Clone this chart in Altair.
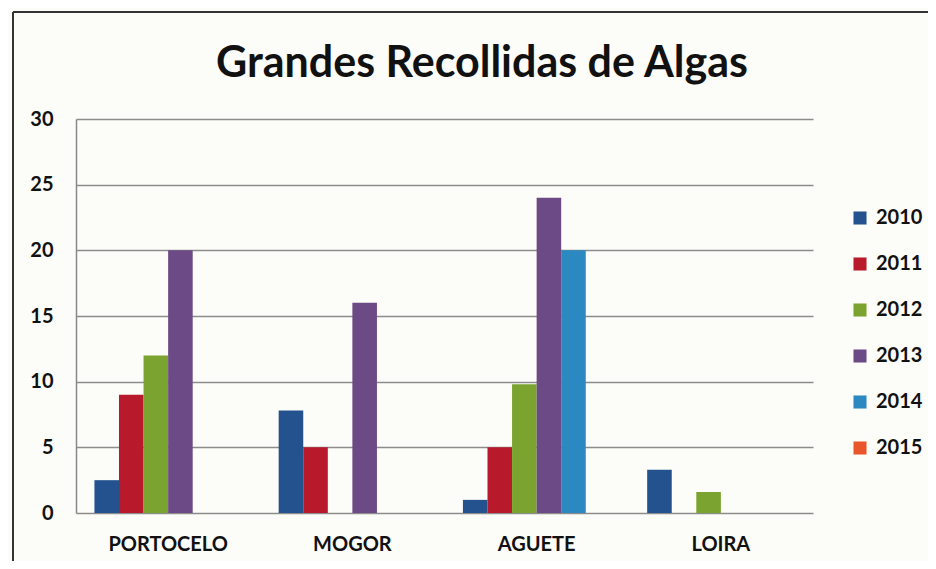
import altair as alt
import pandas as pd

categories = ["PORTOCELO", "MOGOR", "AGUETE", "LOIRA"]
years = ["2010", "2011", "2012", "2013", "2014", "2015"]
v2010 = [2.5, 7.8, 1.0, 3.3]
v2011 = [9.0, 5.0, 5.0, 0.0]
v2012 = [12.0, 0.0, 9.8, 1.6]
v2013 = [20.0, 16.0, 24.0, 0.0]
v2014 = [0.0, 0.0, 20.0, 0.0]
v2015 = [0.0, 0.0, 0.0, 0.0]
colors = ["#24528f", "#b81a2c", "#7aa32f", "#6b4a86", "#2b88c0", "#e9562b"]
title_text = "Grandes Recollidas de Algas"

series = [v2010, v2011, v2012, v2013, v2014, v2015]
rows = []
for y, vals in zip(years, series):
    for c, v in zip(categories, vals):
        rows.append({"lugar": c, "ano": y, "valor": v})
df = pd.DataFrame(rows)

FONT = "Lato"

bars = alt.Chart(df).mark_bar().encode(
    x=alt.X("lugar:N", sort=categories, title=None,
            scale=alt.Scale(paddingInner=0.2, paddingOuter=0.1),
            axis=alt.Axis(labelAngle=0, labelFontSize=20, labelFont=FONT,
                          labelColor="#111", labelPadding=21, ticks=False,
                          domain=False, labelFontWeight="bold")),
    xOffset=alt.XOffset("ano:N", sort=years, scale=alt.Scale(paddingInner=0, paddingOuter=0)),
    y=alt.Y("valor:Q", title=None,
            scale=alt.Scale(domain=[0, 30], nice=False),
            axis=alt.Axis(values=[0, 5, 10, 15, 20, 25, 30], labelFontSize=20,
                          labelFont=FONT, labelColor="#111", labelPadding=23,
                          ticks=False, domain=True, domainColor="#888",
                          domainWidth=1.5, gridColor="#8c8c8c", gridWidth=1.5,
                          labelFontWeight="bold")),
    color=alt.Color("ano:N", sort=years,
                    scale=alt.Scale(domain=years, range=colors),
                    legend=alt.Legend(title=None, orient="none", legendX=774, legendY=89,
                                      symbolType="square", symbolSize=170,
                                      symbolStrokeWidth=0, labelFontSize=20,
                                      labelFont=FONT, labelColor="#111",
                                      labelOffset=6, rowPadding=26,
                                      labelFontWeight="bold")),
)

title = alt.Chart(pd.DataFrame({"t": [title_text]})).mark_text(
    font=FONT, fontSize=43, fontWeight="bold", color="#111", align="center",
    baseline="alphabetic").encode(
    text="t:N", x=alt.value(406), y=alt.value(-42))

frame_left = alt.Chart(df).mark_rule(color="#333", strokeWidth=2).encode(
    x=alt.value(-63), y=alt.value(-107), y2=alt.value(460))
frame_top = alt.Chart(df).mark_rule(color="#333", strokeWidth=2).encode(
    x=alt.value(-63), x2=alt.value(860), y=alt.value(-107))

chart = alt.layer(bars, title, frame_left, frame_top).properties(
    width=737, height=394,
    autosize=alt.AutoSizeParams(type="none"),
    padding={"left": 68, "top": 111, "right": 115, "bottom": 48},
    background="#fcfcf8",
).configure_view(stroke=None)

chart.save("out.html", embed_options={"renderer": "svg", "actions": False})
